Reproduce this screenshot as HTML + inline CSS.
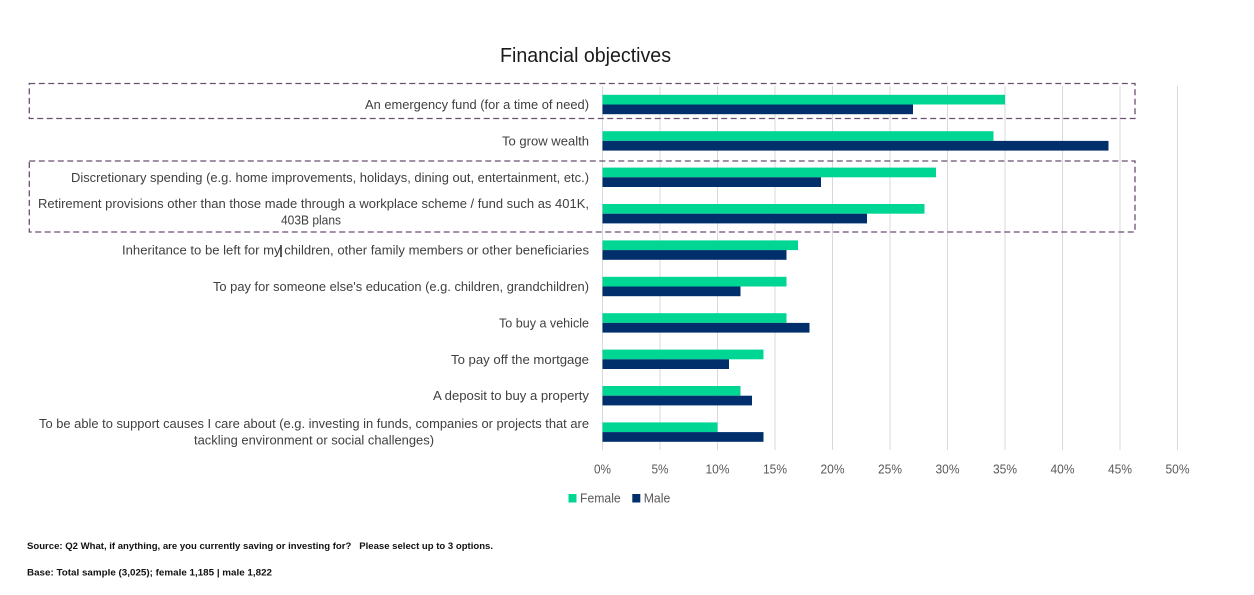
<!DOCTYPE html>
<html>
<head>
<meta charset="utf-8">
<style>
html,body{margin:0;padding:0;background:#fff;}
svg{display:block;}
text{font-family:"Liberation Sans",Arial,sans-serif;}
</style>
</head>
<body>
<svg width="1254" height="595" viewBox="0 0 1254 595" xmlns="http://www.w3.org/2000/svg">
<rect width="1254" height="595" fill="#fff"/>
<!-- title -->
<text x="500" y="62" font-size="20" fill="#1a1a1a" textLength="171" lengthAdjust="spacingAndGlyphs">Financial objectives</text>

<!-- gridlines -->
<g stroke="#d9d9d9" stroke-width="1">
<line x1="602.5" y1="86" x2="602.5" y2="450"/>
<line x1="660" y1="86" x2="660" y2="450"/>
<line x1="717.5" y1="86" x2="717.5" y2="450"/>
<line x1="775" y1="86" x2="775" y2="450"/>
<line x1="832.5" y1="86" x2="832.5" y2="450"/>
<line x1="890" y1="86" x2="890" y2="450"/>
<line x1="947.5" y1="86" x2="947.5" y2="450"/>
<line x1="1005" y1="86" x2="1005" y2="450"/>
<line x1="1062.5" y1="86" x2="1062.5" y2="450"/>
<line x1="1120" y1="86" x2="1120" y2="450"/>
<line x1="1177.5" y1="86" x2="1177.5" y2="450"/>
</g>

<!-- bars: female (green) above, male (navy) below -->
<g>
<rect x="602.5" y="94.8" width="402.5" height="9.7" fill="#00d694"/>
<rect x="602.5" y="104.5" width="310.5" height="9.7" fill="#002f6c"/>

<rect x="602.5" y="131.2" width="391" height="9.7" fill="#00d694"/>
<rect x="602.5" y="140.9" width="506" height="9.7" fill="#002f6c"/>

<rect x="602.5" y="167.6" width="333.5" height="9.7" fill="#00d694"/>
<rect x="602.5" y="177.3" width="218.5" height="9.7" fill="#002f6c"/>

<rect x="602.5" y="204" width="322" height="9.7" fill="#00d694"/>
<rect x="602.5" y="213.7" width="264.5" height="9.7" fill="#002f6c"/>

<rect x="602.5" y="240.4" width="195.5" height="9.7" fill="#00d694"/>
<rect x="602.5" y="250.1" width="184" height="9.7" fill="#002f6c"/>

<rect x="602.5" y="276.8" width="184" height="9.7" fill="#00d694"/>
<rect x="602.5" y="286.5" width="138" height="9.7" fill="#002f6c"/>

<rect x="602.5" y="313.2" width="184" height="9.7" fill="#00d694"/>
<rect x="602.5" y="322.9" width="207" height="9.7" fill="#002f6c"/>

<rect x="602.5" y="349.6" width="161" height="9.7" fill="#00d694"/>
<rect x="602.5" y="359.3" width="126.5" height="9.7" fill="#002f6c"/>

<rect x="602.5" y="386" width="138" height="9.7" fill="#00d694"/>
<rect x="602.5" y="395.7" width="149.5" height="9.7" fill="#002f6c"/>

<rect x="602.5" y="422.4" width="115" height="9.7" fill="#00d694"/>
<rect x="602.5" y="432.1" width="161" height="9.7" fill="#002f6c"/>
</g>

<!-- category labels -->
<g font-size="12.5" fill="#404040" text-anchor="end">
<text x="589" y="109" textLength="224" lengthAdjust="spacingAndGlyphs">An emergency fund (for a time of need)</text>
<text x="589" y="145.5" textLength="87" lengthAdjust="spacingAndGlyphs">To grow wealth</text>
<text x="589" y="181.8" textLength="518" lengthAdjust="spacingAndGlyphs">Discretionary spending (e.g. home improvements, holidays, dining out, entertainment, etc.)</text>
<text x="589" y="208" textLength="551" lengthAdjust="spacingAndGlyphs">Retirement provisions other than those made through a workplace scheme / fund such as 401K,</text>
<text x="341" y="224.5" textLength="60" lengthAdjust="spacingAndGlyphs">403B plans</text>
<text x="589" y="254.6" textLength="467" lengthAdjust="spacingAndGlyphs">Inheritance to be left for my children, other family members or other beneficiaries</text>
<text x="589" y="291" textLength="376" lengthAdjust="spacingAndGlyphs">To pay for someone else's education (e.g. children, grandchildren)</text>
<text x="589" y="327.4" textLength="90" lengthAdjust="spacingAndGlyphs">To buy a vehicle</text>
<text x="589" y="363.8" textLength="138" lengthAdjust="spacingAndGlyphs">To pay off the mortgage</text>
<text x="589" y="400.2" textLength="156" lengthAdjust="spacingAndGlyphs">A deposit to buy a property</text>
<text x="589" y="428" textLength="550" lengthAdjust="spacingAndGlyphs">To be able to support causes I care about (e.g. investing in funds, companies or projects that are</text>
<text x="434" y="444.5" textLength="240" lengthAdjust="spacingAndGlyphs">tackling environment or social challenges)</text>
</g>
<!-- text cursor artifact -->
<line x1="281" y1="245" x2="281" y2="257" stroke="#000" stroke-width="1.3"/>

<!-- dashed highlight boxes -->
<g fill="none" stroke="#6b4f70" stroke-width="1.3" stroke-dasharray="6 3.5">
<rect x="29.3" y="83.5" width="1105.7" height="35"/>
<rect x="29.3" y="161" width="1105.7" height="71"/>
</g>

<!-- tick labels -->
<g font-size="12.5" fill="#595959" text-anchor="middle">
<text x="602.5" y="473.5" textLength="17" lengthAdjust="spacingAndGlyphs">0%</text>
<text x="660" y="473.5" textLength="17" lengthAdjust="spacingAndGlyphs">5%</text>
<text x="717.5" y="473.5" textLength="24" lengthAdjust="spacingAndGlyphs">10%</text>
<text x="775" y="473.5" textLength="24" lengthAdjust="spacingAndGlyphs">15%</text>
<text x="832.5" y="473.5" textLength="24" lengthAdjust="spacingAndGlyphs">20%</text>
<text x="890" y="473.5" textLength="24" lengthAdjust="spacingAndGlyphs">25%</text>
<text x="947.5" y="473.5" textLength="24" lengthAdjust="spacingAndGlyphs">30%</text>
<text x="1005" y="473.5" textLength="24" lengthAdjust="spacingAndGlyphs">35%</text>
<text x="1062.5" y="473.5" textLength="24" lengthAdjust="spacingAndGlyphs">40%</text>
<text x="1120" y="473.5" textLength="24" lengthAdjust="spacingAndGlyphs">45%</text>
<text x="1177.5" y="473.5" textLength="24" lengthAdjust="spacingAndGlyphs">50%</text>
</g>

<!-- legend -->
<rect x="568.5" y="494" width="8" height="8.5" fill="#00d694"/>
<text x="580" y="502.5" font-size="12.5" fill="#595959" textLength="40.7" lengthAdjust="spacingAndGlyphs">Female</text>
<rect x="632.3" y="494" width="8" height="8.5" fill="#002f6c"/>
<text x="643.7" y="502.5" font-size="12.5" fill="#595959" textLength="26.6" lengthAdjust="spacingAndGlyphs">Male</text>

<!-- source notes -->
<text x="27" y="549" font-size="9" font-weight="bold" fill="#111" textLength="466" lengthAdjust="spacingAndGlyphs" xml:space="preserve" style="white-space:pre">Source: Q2 What, if anything, are you currently saving or investing for?   Please select up to 3 options.</text>
<text x="27" y="575.5" font-size="9" font-weight="bold" fill="#111" textLength="245" lengthAdjust="spacingAndGlyphs">Base: Total sample (3,025); female 1,185 | male 1,822</text>
</svg>
</body>
</html>
